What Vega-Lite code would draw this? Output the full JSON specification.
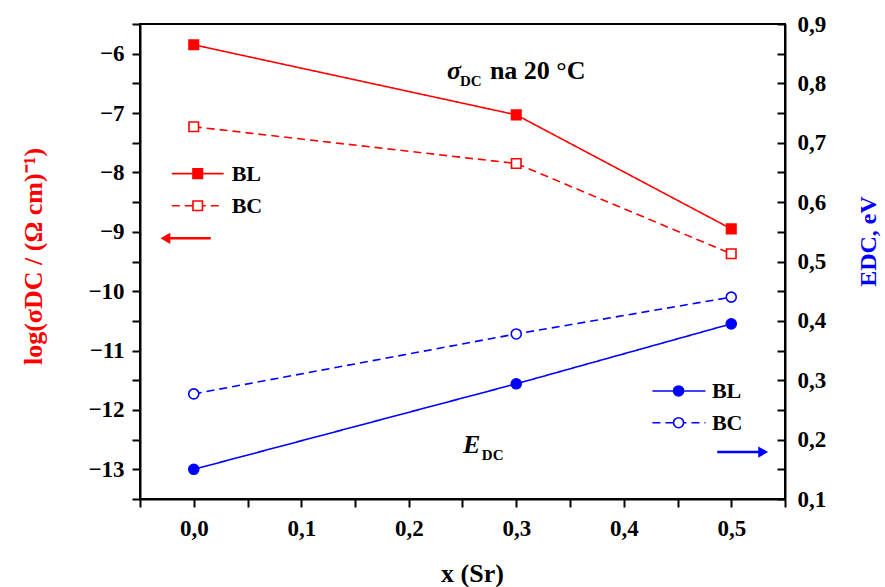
{
  "$schema": "https://vega.github.io/schema/vega-lite/v6.json",
  "width": 645,
  "height": 475,
  "autosize": {"type": "none"},
  "padding": {"left": 140, "top": 24, "right": 100, "bottom": 88},
  "background": "white",
  "config": {
    "font": "Liberation Serif",
    "view": {"stroke": "black", "strokeWidth": 2},
    "axis": {
      "grid": false,
      "domainColor": "black",
      "domainWidth": 2,
      "tickColor": "black",
      "tickWidth": 2,
      "tickSize": 8,
      "labelFont": "Liberation Serif",
      "labelFontSize": 23,
      "labelFontWeight": "bold",
      "labelColor": "black",
      "labelOverlap": false,
      "labelFlush": false,
      "titleFont": "Liberation Serif",
      "titleFontSize": 26,
      "titleFontWeight": "bold"
    }
  },
  "datasets": {
    "sig": [
      {"x": 0, "series": "BL", "value": -5.85},
      {"x": 0.3, "series": "BL", "value": -7.03},
      {"x": 0.5, "series": "BL", "value": -8.95},
      {"x": 0, "series": "BC", "value": -7.23},
      {"x": 0.3, "series": "BC", "value": -7.85},
      {"x": 0.5, "series": "BC", "value": -9.37}
    ],
    "en": [
      {"x": 0, "series": "BL", "value": 0.15},
      {"x": 0.3, "series": "BL", "value": 0.294},
      {"x": 0.5, "series": "BL", "value": 0.395},
      {"x": 0, "series": "BC", "value": 0.277},
      {"x": 0.3, "series": "BC", "value": 0.378},
      {"x": 0.5, "series": "BC", "value": 0.44}
    ],
    "sigLegLine": [
      {"x": -0.0204, "x2": 0.0278, "value": -8.02, "series": "BL"},
      {"x": -0.0204, "x2": 0.0278, "value": -8.56, "series": "BC"}
    ],
    "sigLegPt": [
      {"x": 0.0037, "value": -8.02, "series": "BL"},
      {"x": 0.0037, "value": -8.56, "series": "BC"}
    ],
    "sigLegText": [
      {"x": 0.0353, "value": -8.02, "label": "BL"},
      {"x": 0.0353, "value": -8.56, "label": "BC"}
    ],
    "sigArrow": [{"x": 0.0158, "x2": -0.024, "value": -9.11}],
    "sigArrowHead": [{"x": -0.0264, "value": -9.11}],
    "sigTitleSym": [{"x": 0.2356, "value": -6.29, "label": "σ"}],
    "sigTitleSub": [{"x": 0.2477, "value": -6.46, "label": "DC"}],
    "sigTitleMain": [{"x": 0.2755, "value": -6.29, "label": "na 20 °C"}],
    "enLegLine": [
      {"x": 0.4267, "x2": 0.476, "value": 0.282, "series": "BL"},
      {"x": 0.4267, "x2": 0.476, "value": 0.2285, "series": "BC"}
    ],
    "enLegPt": [
      {"x": 0.451, "value": 0.282, "series": "BL"},
      {"x": 0.451, "value": 0.2285, "series": "BC"}
    ],
    "enLegText": [
      {"x": 0.482, "value": 0.282, "label": "BL"},
      {"x": 0.482, "value": 0.2285, "label": "BC"}
    ],
    "enArrow": [{"x": 0.487, "x2": 0.527, "value": 0.179}],
    "enArrowHead": [{"x": 0.5297, "value": 0.179}],
    "enTitleSym": [{"x": 0.2505, "value": 0.191, "label": "E"}],
    "enTitleSub": [{"x": 0.268, "value": 0.174, "label": "DC"}]
  },
  "encoding": {
    "x": {
      "field": "x",
      "type": "quantitative",
      "scale": {"domain": [-0.05, 0.55], "nice": false, "zero": false},
      "axis": {
        "title": "x (Sr)",
        "values": [-0.05, 0, 0.05, 0.1, 0.15, 0.2, 0.25, 0.3, 0.35, 0.4, 0.45, 0.5, 0.55],
        "labelExpr": "abs(datum.value*10 - round(datum.value*10)) < 0.001 ? replace(format(datum.value, '.1f'), '.', ',') : ''",
        "labelPadding": 10,
        "titleX": 332,
        "titleY": 74,
        "titleBaseline": "middle"
      }
    }
  },
  "layer": [
    {
      "encoding": {
        "y": {
          "field": "value",
          "type": "quantitative",
          "scale": {"domain": [-13.5, -5.5], "nice": false, "zero": false},
          "axis": {
            "orient": "left",
            "title": "log(σDC / (Ω cm)⁻¹)",
            "titleColor": "#ff0000",
            "values": [-13.5, -13, -12.5, -12, -11.5, -11, -10.5, -10, -9.5, -9, -8.5, -8, -7.5, -7, -6.5, -6, -5.5],
            "labelExpr": "datum.value == round(datum.value) ? format(datum.value, 'd') : ''",
            "labelPadding": 8,
            "titleAngle": 270,
            "titleX": -107,
            "titleY": 232,
            "titleBaseline": "middle",
            "titleAlign": "center"
          }
        }
      },
      "layer": [
        {
          "data": {"name": "sig"},
          "mark": {"type": "line", "color": "#ff0000", "strokeWidth": 1.6},
          "encoding": {
            "detail": {"field": "series"},
            "strokeDash": {"condition": {"test": "datum.series === 'BC'", "value": [8, 5]}, "value": [1, 0]}
          }
        },
        {
          "data": {"name": "sig"},
          "mark": {"type": "point", "shape": "square", "size": 90, "stroke": "#ff0000", "strokeWidth": 1.6, "opacity": 1},
          "encoding": {
            "fill": {"condition": {"test": "datum.series === 'BL'", "value": "#ff0000"}, "value": "white"}
          }
        },
        {
          "data": {"name": "sigLegLine"},
          "mark": {"type": "rule", "color": "#ff0000", "strokeWidth": 1.6},
          "encoding": {
            "x2": {"field": "x2"},
            "strokeDash": {"condition": {"test": "datum.series === 'BC'", "value": [8, 5]}, "value": [1, 0]}
          }
        },
        {
          "data": {"name": "sigLegPt"},
          "mark": {"type": "point", "shape": "square", "size": 90, "stroke": "#ff0000", "strokeWidth": 1.6, "opacity": 1},
          "encoding": {
            "fill": {"condition": {"test": "datum.series === 'BL'", "value": "#ff0000"}, "value": "white"}
          }
        },
        {
          "data": {"name": "sigLegText"},
          "mark": {"type": "text", "align": "left", "baseline": "middle", "fontSize": 22, "fontWeight": "bold", "color": "black"},
          "encoding": {"text": {"field": "label"}}
        },
        {
          "data": {"name": "sigArrow"},
          "mark": {"type": "rule", "color": "#ff0000", "strokeWidth": 2.5},
          "encoding": {"x2": {"field": "x2"}}
        },
        {
          "data": {"name": "sigArrowHead"},
          "mark": {"type": "point", "shape": "triangle-left", "size": 130, "filled": true, "color": "#ff0000", "opacity": 1},
          "encoding": {}
        },
        {
          "data": {"name": "sigTitleSym"},
          "mark": {"type": "text", "align": "left", "baseline": "middle", "fontSize": 26, "fontStyle": "italic", "fontWeight": "bold", "color": "black"},
          "encoding": {"text": {"field": "label"}}
        },
        {
          "data": {"name": "sigTitleSub"},
          "mark": {"type": "text", "align": "left", "baseline": "middle", "fontSize": 15, "fontWeight": "bold", "color": "black"},
          "encoding": {"text": {"field": "label"}}
        },
        {
          "data": {"name": "sigTitleMain"},
          "mark": {"type": "text", "align": "left", "baseline": "middle", "fontSize": 26, "fontWeight": "bold", "color": "black"},
          "encoding": {"text": {"field": "label"}}
        }
      ]
    },
    {
      "encoding": {
        "y": {
          "field": "value",
          "type": "quantitative",
          "scale": {"domain": [0.1, 0.9], "nice": false, "zero": false},
          "axis": {
            "orient": "right",
            "title": "EDC, eV",
            "titleColor": "#0000ff",
            "titleFontSize": 24,
            "values": [0.1, 0.15, 0.2, 0.25, 0.3, 0.35, 0.4, 0.45, 0.5, 0.55, 0.6, 0.65, 0.7, 0.75, 0.8, 0.85, 0.9],
            "labelExpr": "abs(datum.value*10 - round(datum.value*10)) < 0.001 ? replace(format(datum.value, '.1f'), '.', ',') : ''",
            "tickSize": -8,
            "labelPadding": 20,
            "titleAngle": 270,
            "titleX": 83,
            "titleY": 217,
            "titleBaseline": "middle",
            "titleAlign": "center"
          }
        }
      },
      "layer": [
        {
          "data": {"name": "en"},
          "mark": {"type": "line", "color": "#0000ff", "strokeWidth": 1.6},
          "encoding": {
            "detail": {"field": "series"},
            "strokeDash": {"condition": {"test": "datum.series === 'BC'", "value": [8, 5]}, "value": [1, 0]}
          }
        },
        {
          "data": {"name": "en"},
          "mark": {"type": "point", "shape": "circle", "size": 100, "stroke": "#0000ff", "strokeWidth": 1.6, "opacity": 1},
          "encoding": {
            "fill": {"condition": {"test": "datum.series === 'BL'", "value": "#0000ff"}, "value": "white"}
          }
        },
        {
          "data": {"name": "enLegLine"},
          "mark": {"type": "rule", "color": "#0000ff", "strokeWidth": 1.6},
          "encoding": {
            "x2": {"field": "x2"},
            "strokeDash": {"condition": {"test": "datum.series === 'BC'", "value": [8, 5]}, "value": [1, 0]}
          }
        },
        {
          "data": {"name": "enLegPt"},
          "mark": {"type": "point", "shape": "circle", "size": 100, "stroke": "#0000ff", "strokeWidth": 1.6, "opacity": 1},
          "encoding": {
            "fill": {"condition": {"test": "datum.series === 'BL'", "value": "#0000ff"}, "value": "white"}
          }
        },
        {
          "data": {"name": "enLegText"},
          "mark": {"type": "text", "align": "left", "baseline": "middle", "fontSize": 22, "fontWeight": "bold", "color": "black"},
          "encoding": {"text": {"field": "label"}}
        },
        {
          "data": {"name": "enArrow"},
          "mark": {"type": "rule", "color": "#0000ff", "strokeWidth": 2.5},
          "encoding": {"x2": {"field": "x2"}}
        },
        {
          "data": {"name": "enArrowHead"},
          "mark": {"type": "point", "shape": "triangle-right", "size": 130, "filled": true, "color": "#0000ff", "opacity": 1},
          "encoding": {}
        },
        {
          "data": {"name": "enTitleSym"},
          "mark": {"type": "text", "align": "left", "baseline": "middle", "fontSize": 26, "fontStyle": "italic", "fontWeight": "bold", "color": "black"},
          "encoding": {"text": {"field": "label"}}
        },
        {
          "data": {"name": "enTitleSub"},
          "mark": {"type": "text", "align": "left", "baseline": "middle", "fontSize": 15, "fontWeight": "bold", "color": "black"},
          "encoding": {"text": {"field": "label"}}
        }
      ]
    }
  ],
  "resolve": {"scale": {"y": "independent"}, "axis": {"y": "independent"}}
}
